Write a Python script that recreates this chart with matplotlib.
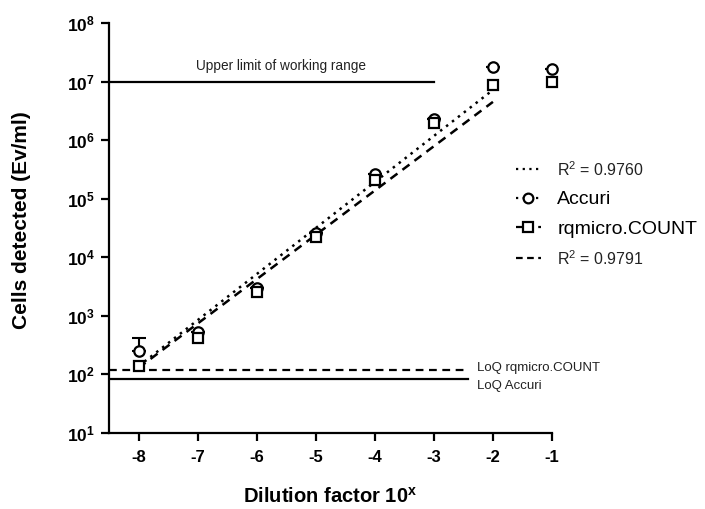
import matplotlib as mpl
mpl.use('Agg')
import matplotlib.pyplot as plt
from matplotlib.lines import Line2D

# data
dilution = [-8, -7, -6, -5, -4, -3, -2, -1]
accuri = [250, 540, 2990, 25700, 2.6e5, 2.3e6, 1.78e7, 1.66e7]
rqmicro = [140, 415, 2560, 22200, 2.1e5, 1.96e6, 8.7e6, 1.0e7]
accuri_err_hi = [165, 0, 0, 0, 0, 0, 0, 0]

# regression lines (end points)
fit_x = [-8, -2]
fit_accuri = [138, 7.2e6]
fit_rqmicro = [129, 4.5e6]
r2_accuri = 0.9760
r2_rqmicro = 0.9791

upper_limit = 1e7
loq_rqmicro = 120
loq_accuri = 84

xticks = [-8, -7, -6, -5, -4, -3, -2, -1]
yticks = [1e1, 1e2, 1e3, 1e4, 1e5, 1e6, 1e7, 1e8]
ytick_labels = [r'$\mathbf{10^{%d}}$' % e for e in range(1, 9)]

plt.rcParams['font.family'] = ['Liberation Sans', 'DejaVu Sans']
plt.rcParams['mathtext.fontset'] = 'custom'
plt.rcParams['mathtext.rm'] = 'Liberation Sans'
plt.rcParams['mathtext.it'] = 'Liberation Sans:italic'
plt.rcParams['mathtext.bf'] = 'Liberation Sans:bold'

fig = plt.figure(figsize=(7.05, 5.09), dpi=100)
ax = fig.add_axes([109/705, 76/509, (552-109)/705, (433-23)/509])

ax.set_yscale('log')
ax.set_xlim(-8.5, -1)
ax.set_ylim(1e1, 1e8)

# reference lines
ax.plot([-8.5, -3], [upper_limit, upper_limit], color='black', lw=1.6)
ax.plot([-8.5, -2.42], [loq_rqmicro, loq_rqmicro], color='black', lw=1.6, ls=(0, (3.5, 2.5)))
ax.plot([-8.5, -2.42], [loq_accuri, loq_accuri], color='black', lw=1.6)
ax.text(-5.58, 1.4e7, 'Upper limit of working range', fontsize=9.8, ha='center', va='bottom', color='#222222')
ax.text(-2.27, loq_rqmicro * 1.08, 'LoQ rqmicro.COUNT', fontsize=9.5, ha='left', va='center', color='#222222', clip_on=False)
ax.text(-2.27, loq_accuri * 0.76, 'LoQ Accuri', fontsize=9.5, ha='left', va='center', color='#222222', clip_on=False)

# regression lines
ax.plot(fit_x, fit_accuri, color='black', lw=1.8, ls=(0, (1, 2)))
ax.plot(fit_x, fit_rqmicro, color='black', lw=1.8, ls=(0, (3.5, 2.5)))

# data points
ax.errorbar(dilution, accuri, yerr=[[0] * len(accuri_err_hi), accuri_err_hi], fmt='none',
            ecolor='black', elinewidth=1.5, capsize=5, capthick=1.5, zorder=3)
ax.plot(dilution, accuri, 'o', ms=7.5, mfc='white', mec='black', mew=1.6, ls='none', zorder=4, clip_on=False)
ax.plot(dilution, rqmicro, 's', ms=7.5, mfc='white', mec='black', mew=1.6, ls='none', zorder=5, clip_on=False)

# axes styling
for side in ['top', 'right']:
    ax.spines[side].set_visible(False)
for side in ['left', 'bottom']:
    ax.spines[side].set_linewidth(1.6)
ax.set_xticks(xticks)
ax.set_xticklabels([str(t) for t in xticks], fontsize=12, fontweight='bold')
ax.set_yticks(yticks)
ax.set_yticklabels(ytick_labels, fontsize=12.5)
ax.minorticks_off()
ax.tick_params(axis='both', direction='out', length=6, width=1.6, pad=4)
ax.tick_params(axis='x', pad=6)

ax.set_ylabel('Cells detected (Ev/ml)', fontsize=15, fontweight='bold')
ax.yaxis.set_label_coords(-0.177, 0.52)
ax.set_xlabel(r'Dilution factor $\mathbf{10^{x}}$', fontsize=14.5, fontweight='bold', labelpad=16)

# legend
handles = [
    Line2D([], [], color='black', lw=1.6, ls=(0, (1, 2))),
    Line2D([], [], color='black', lw=1.6, ls=(0, (1, 2)), marker='o', ms=7, mfc='white', mec='black', mew=1.6),
    Line2D([], [], color='black', lw=1.6, ls=(0, (3, 2)), marker='s', ms=7, mfc='white', mec='black', mew=1.6),
    Line2D([], [], color='black', lw=1.6, ls=(0, (3, 2))),
]
labels = [r'R$^2$ = %.4f' % r2_accuri, 'Accuri', 'rqmicro.COUNT', r'R$^2$ = %.4f' % r2_rqmicro]
leg = fig.legend(handles, labels, loc='upper left', bbox_to_anchor=(498/705, 1 - 143/509),
                 frameon=False, fontsize=14, handlelength=1.3, handletextpad=0.85, labelspacing=0.6)
for i in [0, 3]:
    leg.get_texts()[i].set_fontsize(11.5)
    leg.get_texts()[i].set_color('#222222')

fig.savefig('out.png', dpi=100)
